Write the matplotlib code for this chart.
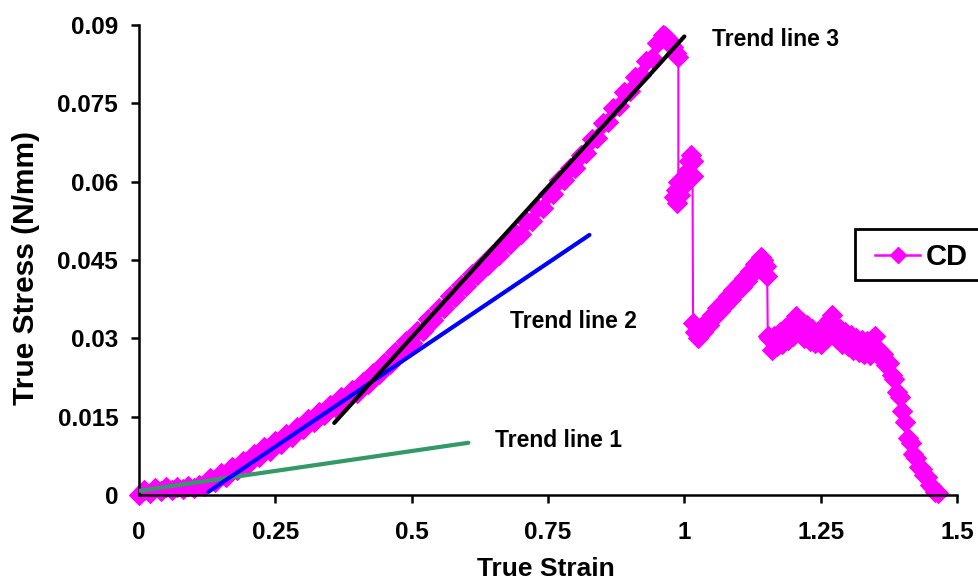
import matplotlib
matplotlib.use("Agg")
import matplotlib.pyplot as plt
from matplotlib.patches import Rectangle
from matplotlib.lines import Line2D

plt.rcParams['font.family'] = ['Liberation Sans', 'DejaVu Sans']
plt.rcParams['font.weight'] = 'bold'

# --- data ---
strain = [
    0.00, 0.01, 0.02, 0.03, 0.04, 0.05, 0.06, 0.07, 0.08, 0.09, 0.10, 0.11, 0.12,
    0.13, 0.14, 0.15, 0.16, 0.17, 0.18, 0.19, 0.20, 0.21, 0.22, 0.23, 0.24, 0.25,
    0.26, 0.27, 0.28, 0.29, 0.30, 0.31, 0.32, 0.33, 0.34, 0.35, 0.36, 0.37, 0.38,
    0.39, 0.40, 0.41, 0.42, 0.43, 0.44, 0.45, 0.46, 0.47, 0.48, 0.49, 0.50, 0.51,
    0.52, 0.53, 0.54, 0.55, 0.56, 0.57, 0.58, 0.59, 0.60, 0.61, 0.62, 0.63, 0.64,
    0.65, 0.66, 0.67, 0.68, 0.69, 0.70, 0.71, 0.72, 0.73, 0.74, 0.75, 0.76, 0.77,
    0.78, 0.79, 0.80, 0.81, 0.82, 0.83, 0.84, 0.85, 0.86, 0.87, 0.88, 0.89, 0.90,
    0.91, 0.92, 0.93, 0.94, 0.95, 0.96, 0.965, 0.97, 0.975, 0.98, 0.985, 0.989,
    0.989, 0.984, 0.981, 0.986, 0.992, 0.996, 1.000, 1.004, 1.008, 1.012, 1.015,
    1.015, 1.016, 1.020, 1.025, 1.030, 1.035, 1.040, 1.045, 1.050, 1.055, 1.060,
    1.065, 1.070, 1.075, 1.080, 1.085, 1.090, 1.095, 1.100, 1.105, 1.110, 1.115,
    1.120, 1.125, 1.130, 1.135, 1.140, 1.145, 1.150, 1.152, 1.153, 1.155, 1.160,
    1.165, 1.170, 1.175, 1.180, 1.185, 1.190, 1.195, 1.200, 1.205, 1.210, 1.215,
    1.220, 1.225, 1.230, 1.235, 1.240, 1.245, 1.250, 1.255, 1.260, 1.265, 1.270,
    1.275, 1.280, 1.285, 1.290, 1.295, 1.300, 1.305, 1.310, 1.315, 1.320, 1.325,
    1.330, 1.335, 1.340, 1.345, 1.350, 1.355, 1.360, 1.365, 1.370, 1.375, 1.380,
    1.385, 1.390, 1.395, 1.400, 1.405, 1.410, 1.415, 1.420, 1.425, 1.430, 1.435,
    1.440, 1.445, 1.450, 1.455, 1.460, 1.465,
]
stress = [
    0.0000, 0.0010, 0.0004, 0.0013, 0.0007, 0.0015, 0.0009, 0.0016, 0.0011, 0.0018, 0.0013, 0.0020, 0.0018,
    0.0032, 0.0024, 0.0042, 0.0035, 0.0054, 0.0047, 0.0066, 0.0059, 0.0078, 0.0072, 0.0091, 0.0085, 0.0103,
    0.0098, 0.0117, 0.0112, 0.0131, 0.0126, 0.0145, 0.0140, 0.0159, 0.0154, 0.0173, 0.0168, 0.0187, 0.0182,
    0.0201, 0.0196, 0.0216, 0.0213, 0.0234, 0.0232, 0.0253, 0.0251, 0.0273, 0.0271, 0.0294, 0.0292, 0.0315,
    0.0314, 0.0337, 0.0336, 0.0359, 0.0358, 0.0381, 0.0380, 0.0403, 0.0401, 0.0423, 0.0421, 0.0443, 0.0440,
    0.0462, 0.0460, 0.0482, 0.0480, 0.0502, 0.0500, 0.0524, 0.0524, 0.0549, 0.0550, 0.0576, 0.0577, 0.0603,
    0.0604, 0.0627, 0.0627, 0.0652, 0.0654, 0.0681, 0.0684, 0.0712, 0.0715, 0.0742, 0.0745, 0.0772, 0.0774,
    0.0801, 0.0804, 0.0832, 0.0836, 0.0866, 0.0880, 0.0878, 0.0874, 0.0862, 0.0858, 0.0846, 0.0838,
    0.0600, 0.0585, 0.0570, 0.0560, 0.0575, 0.0590, 0.0605, 0.0620, 0.0640, 0.0652, 0.0640,
    0.0610, 0.0330, 0.0312, 0.0300, 0.0318, 0.0312, 0.0332, 0.0325, 0.0345, 0.0340, 0.0358,
    0.0352, 0.0370, 0.0364, 0.0382, 0.0376, 0.0393, 0.0388, 0.0404, 0.0398, 0.0415, 0.0410,
    0.0428, 0.0424, 0.0442, 0.0438, 0.0455, 0.0450, 0.0438, 0.0420, 0.0305, 0.0300, 0.0278,
    0.0305, 0.0285, 0.0312, 0.0290, 0.0320, 0.0296, 0.0330, 0.0305, 0.0342, 0.0312, 0.0332,
    0.0300, 0.0325, 0.0295, 0.0318, 0.0292, 0.0315, 0.0290, 0.0320, 0.0298, 0.0335, 0.0345,
    0.0315, 0.0298, 0.0318, 0.0290, 0.0312, 0.0285, 0.0306, 0.0278, 0.0300, 0.0274, 0.0296,
    0.0270, 0.0294, 0.0268, 0.0298, 0.0305, 0.0280, 0.0262, 0.0270, 0.0248, 0.0252, 0.0230,
    0.0222, 0.0198, 0.0188, 0.0160, 0.0140, 0.0110, 0.0100, 0.0078, 0.0070, 0.0054, 0.0050,
    0.0038, 0.0034, 0.0020, 0.0016, 0.0006, 0.0004,
]

# trend lines: start and end points
trend1_x = [0.0, 0.604]
trend1_y = [0.0008, 0.0100]
trend2_x = [0.127, 0.826]
trend2_y = [0.0006, 0.0498]
trend3_x = [0.358, 1.0]
trend3_y = [0.0138, 0.0878]

trend_labels = ["Trend line 1", "Trend line 2", "Trend line 3"]
label_pos = [(0.653, 0.0105), (0.681, 0.0333), (1.051, 0.0872)]

xticks = [0, 0.25, 0.5, 0.75, 1, 1.25, 1.5]
xticklabels = ["0", "0.25", "0.5", "0.75", "1", "1.25", "1.5"]
yticks = [0, 0.015, 0.03, 0.045, 0.06, 0.075, 0.09]
yticklabels = ["0", "0.015", "0.03", "0.045", "0.06", "0.075", "0.09"]

W, H = 979, 582
fig = plt.figure(figsize=(W / 100, H / 100), dpi=100)
ax = fig.add_axes([139 / W, 1 - 495 / H, 818 / W, 470 / H])

ax.plot(strain, stress, color='#ff00ff', lw=1.5, marker='D', markersize=10.5,
        markeredgewidth=0.8, markeredgecolor='#ff00ff', clip_on=False, zorder=2)

ax.plot(trend1_x, trend1_y, color='#339966', lw=3, solid_capstyle='round', zorder=3)
ax.plot(trend2_x, trend2_y, color='#0000ff', lw=3, solid_capstyle='round', zorder=3)
ax.plot(trend3_x, trend3_y, color='black', lw=3, solid_capstyle='round', zorder=3)

for txt, (lx, ly) in zip(trend_labels, label_pos):
    ax.text(lx, ly, txt, fontsize=16.5, fontweight='bold', ha='left', va='center')

ax.set_xlim(0, 1.5)
ax.set_ylim(0, 0.09)
ax.set_xticks(xticks)
ax.set_xticklabels(xticklabels)
ax.set_yticks(yticks)
ax.set_yticklabels(yticklabels)
ax.tick_params(axis='both', direction='out', length=6, width=1.8, labelsize=17.5)
ax.tick_params(axis='x', pad=13)
ax.tick_params(axis='y', pad=9)

for s in ['top', 'right']:
    ax.spines[s].set_visible(False)
for s in ['left', 'bottom']:
    ax.spines[s].set_linewidth(1.8)

# axis titles
fig.text(546 / W, 1 - 569 / H, "True Strain", fontsize=19, fontweight='bold',
         ha='center', va='center')
fig.text(26 / W, 1 - 268 / H, "True Stress (N/mm)", fontsize=21.5, fontweight='bold',
         ha='center', va='center', rotation=90)

# legend box (runs off the right edge like the reference)
fig.add_artist(Rectangle((855 / W, 1 - 280 / H), 140 / W, 51 / H,
                         transform=fig.transFigure, facecolor='white',
                         edgecolor='black', lw=2, clip_on=False))
fig.add_artist(Line2D([875 / W, 920 / W], [1 - 255 / H, 1 - 255 / H],
                      transform=fig.transFigure, color='#ff00ff', lw=1.8))
fig.add_artist(Line2D([898 / W], [1 - 255 / H], transform=fig.transFigure,
                      color='#ff00ff', marker='D', markersize=8, lw=0))
fig.text(926 / W, 1 - 257 / H, "CD", fontsize=21, fontweight='bold',
         ha='left', va='center')

fig.savefig("out.png", dpi=100)
